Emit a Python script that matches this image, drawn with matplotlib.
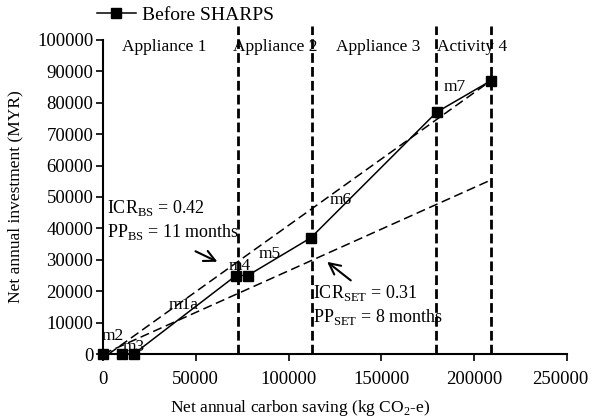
import matplotlib.pyplot as plt
import matplotlib.transforms as mtransforms

plt.rcParams['font.family'] = ['Liberation Serif', 'DejaVu Serif']
plt.rcParams['mathtext.fontset'] = 'custom'
plt.rcParams['mathtext.rm'] = 'Liberation Serif'

# Before SHARPS curve
saving = [0, 10000, 16500, 71700, 78000, 112000, 179800, 209000]
investment = [0, 0, 0, 25000, 25000, 37000, 77000, 87000]

# point labels
labels = ['m2', 'm3', 'm1a', 'm4', 'm5', 'm6', 'm7']
label_x = [5100, 16700, 43600, 73800, 90000, 128000, 189400]
label_y = [5600, 2400, 15600, 27900, 32000, 49000, 84900]

# ICR lines
bs_x = [3000, 209000]
bs_y = [0, 87000]
set_x = [0, 209000]
set_y = [0, 55400]

# phase boundaries and names
bounds = [73000, 112700, 179300, 209000]
phases = ['Appliance 1', 'Appliance 2', 'Appliance 3', 'Activity 4']
phase_x = [32900, 92700, 148200, 198800]

fig = plt.figure(figsize=(5.93, 4.2), dpi=100)
ax = fig.add_axes([0.1737, 0.157, 0.956 - 0.1737, 0.905 - 0.157])

ax.plot(saving, investment, color='black', lw=1.1, marker='s', ms=7.5,
        label='Before SHARPS', clip_on=False, zorder=5)
ax.plot(bs_x, bs_y, color='black', lw=1.1, ls=(0, (6, 3)))
ax.plot(set_x, set_y, color='black', lw=1.1, ls=(0, (6, 3)))
for b in bounds:
    ax.plot([b, b], [0, 104500], color='black', lw=2, ls=(0, (3.5, 1.5)),
            clip_on=False)

for t, x in zip(phases, phase_x):
    ax.text(x, 97800, t, ha='center', va='center', fontsize=12.5)
for t, x, y in zip(labels, label_x, label_y):
    ax.text(x, y, t, ha='center', va='center', fontsize=12.5)

ax.text(2000, 46500, r'ICR$_{\mathrm{BS}}$ = 0.42', fontsize=13, va='center')
ax.text(2000, 38900, r'PP$_{\mathrm{BS}}$ = 11 months', fontsize=13, va='center')
ax.annotate('', xy=(63000, 29000), xytext=(48500, 33100),
            arrowprops=dict(arrowstyle='->', lw=1.5, color='black',
                            mutation_scale=20))
ax.text(113000, 19400, r'ICR$_{\mathrm{SET}}$ = 0.31', fontsize=13, va='center')
ax.text(113000, 11800, r'PP$_{\mathrm{SET}}$ = 8 months', fontsize=13, va='center')
ax.annotate('', xy=(119600, 29900), xytext=(134700, 22900),
            arrowprops=dict(arrowstyle='->', lw=1.5, color='black',
                            mutation_scale=20))

ax.set_xlim(0, 250000)
ax.set_ylim(0, 100000)
ax.set_xticks(range(0, 250001, 50000))
ax.set_yticks(range(0, 100001, 10000))
ax.spines['top'].set_visible(False)
ax.spines['right'].set_visible(False)
ax.spines['left'].set_linewidth(1.5)
ax.spines['bottom'].set_linewidth(1.5)
ax.tick_params(labelsize=13.5, length=5, width=1.2)
ax.tick_params(axis='x', pad=7)
ax.tick_params(axis='y', pad=2)
# last x label sits a little left, as in the original
last = ax.get_xticklabels()[-1]
last.set_transform(last.get_transform() +
                   mtransforms.ScaledTranslation(-7 / 100, 0, fig.dpi_scale_trans))
ax.set_xlabel(r'Net annual carbon saving (kg CO$_2$-e)', fontsize=12.5, labelpad=10)
ax.xaxis.set_label_coords(0.425, -0.14)
ax.set_ylabel('Net annual investment (MYR)', fontsize=12.5, labelpad=10)

ax.legend(loc='center left', bbox_to_anchor=(97 / 593, 1 - 15 / 420),
          bbox_transform=fig.transFigure, frameon=False, fontsize=14,
          handlelength=2.0, handletextpad=0.3, borderpad=0, borderaxespad=0)

fig.savefig('out.png', dpi=100)
